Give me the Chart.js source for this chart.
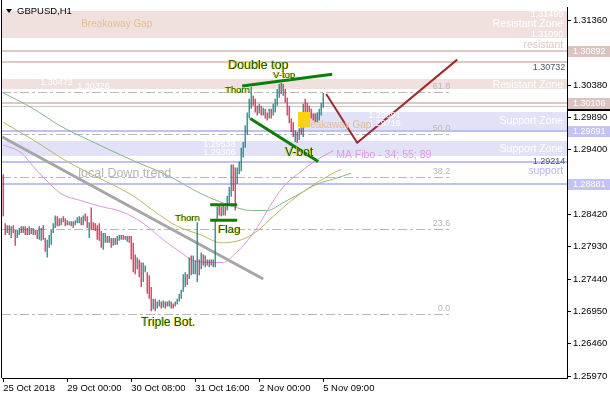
<!DOCTYPE html>
<html>
<head>
<meta charset="utf-8">
<title>GBPUSD,H1</title>
<script src="https://cdn.jsdelivr.net/npm/chart.js@4.4.1/dist/chart.umd.min.js"></script>
<style>
  html, body { margin: 0; padding: 0; background: #fff; }
  #wrap { width: 610px; height: 400px; }
</style>
</head>
<body>
<div id="wrap"><canvas id="myChart" width="610" height="400"></canvas></div>
<script>
// GBPUSD H1, 25 Oct 2018 -> 5 Nov 2018, one entry per hourly bar
const barHigh = [
  1.29031, 1.28288, 1.28258, 1.28258, 1.28243, 1.28258, 1.28184, 1.28184, 1.28214, 1.28243,
  1.28243, 1.28243, 1.28214, 1.28243, 1.28214, 1.28214, 1.28184, 1.28184, 1.28243, 1.28214,
  1.28258, 1.28065, 1.28036, 1.28110, 1.28184, 1.28288, 1.28407, 1.28392, 1.28362, 1.28362,
  1.28392, 1.28362, 1.28333, 1.28318, 1.28318, 1.28318, 1.28333, 1.28377, 1.28392, 1.28377,
  1.28407, 1.28437, 1.28392, 1.28303, 1.28526, 1.28303, 1.28288, 1.28258, 1.28288, 1.28169,
  1.28140, 1.28140, 1.28095, 1.28095, 1.28065, 1.28065, 1.28065, 1.28095, 1.28110, 1.28110,
  1.28110, 1.28095, 1.28095, 1.28095, 1.28095, 1.27991, 1.27813, 1.27768, 1.27739, 1.27694,
  1.27694, 1.27649, 1.27546, 1.27501, 1.27323, 1.27145, 1.27145, 1.27100, 1.27130, 1.27100,
  1.27115, 1.27100, 1.27100, 1.27115, 1.27100, 1.27070, 1.27100, 1.27145, 1.27219, 1.27278,
  1.27516, 1.27546, 1.27516, 1.27768, 1.27798, 1.27798, 1.27724, 1.28303, 1.27739, 1.27843,
  1.27813, 1.27798, 1.27739, 1.27739, 1.27739, 1.27739, 1.28333, 1.28540, 1.28555, 1.28540,
  1.28555, 1.28540, 1.28704, 1.28837, 1.29179, 1.29179, 1.29134, 1.29134, 1.29224, 1.29431,
  1.29521, 1.29773, 1.29966, 1.30174, 1.30352, 1.30219, 1.30174, 1.30070, 1.30100, 1.30070,
  1.30040, 1.30025, 1.29966, 1.30025, 1.30025, 1.30100, 1.30174, 1.30322, 1.30397, 1.30412,
  1.30397, 1.30322, 1.30189, 1.30070, 1.29877, 1.29818, 1.29699, 1.29669, 1.29728, 1.29743,
  1.30100, 1.30174, 1.30115, 1.30070, 1.30025, 1.29951, 1.29951, 1.29966, 1.30025, 1.30115,
  1.30263
];
const barLow = [
  1.28392, 1.28110, 1.28140, 1.28110, 1.28065, 1.28140, 1.27946, 1.28065, 1.28110, 1.28140,
  1.28140, 1.28110, 1.28110, 1.28110, 1.28125, 1.28110, 1.28110, 1.28050, 1.28036, 1.28021,
  1.28036, 1.27857, 1.27768, 1.27917, 1.27961, 1.28140, 1.28214, 1.28243, 1.28243, 1.28258,
  1.28303, 1.28243, 1.28258, 1.28258, 1.28243, 1.28214, 1.28258, 1.28288, 1.28288, 1.28258,
  1.28258, 1.28318, 1.28214, 1.28065, 1.28184, 1.28184, 1.28169, 1.28036, 1.28021, 1.27917,
  1.27887, 1.27991, 1.27991, 1.27991, 1.27917, 1.27946, 1.27961, 1.27961, 1.28021, 1.28036,
  1.28036, 1.28036, 1.28006, 1.27991, 1.27739, 1.27546, 1.27516, 1.27590, 1.27471, 1.27323,
  1.27397, 1.27546, 1.27219, 1.27145, 1.26952, 1.26981, 1.26952, 1.26996, 1.27026, 1.26996,
  1.27011, 1.26996, 1.27026, 1.27026, 1.26996, 1.26996, 1.27026, 1.27055, 1.27100, 1.27145,
  1.27249, 1.27323, 1.27352, 1.27442, 1.27501, 1.27516, 1.27516, 1.27397, 1.27501, 1.27590,
  1.27649, 1.27620, 1.27649, 1.27620, 1.27649, 1.27620, 1.27620, 1.28333, 1.28407, 1.28392,
  1.28407, 1.28407, 1.28481, 1.28585, 1.28689, 1.28778, 1.28481, 1.28882, 1.29031, 1.29075,
  1.29283, 1.29431, 1.29625, 1.29877, 1.30025, 1.30070, 1.29966, 1.29922, 1.29951, 1.29922,
  1.29922, 1.29877, 1.29847, 1.29877, 1.29877, 1.29922, 1.29966, 1.30070, 1.30189, 1.30248,
  1.30219, 1.30115, 1.29922, 1.29803, 1.29669, 1.29595, 1.29521, 1.29506, 1.29550, 1.29625,
  1.29595, 1.29922, 1.29951, 1.29922, 1.29877, 1.29847, 1.29818, 1.29818, 1.29847, 1.29922,
  1.30040
];
// 1 = bull candle, 0 = bear candle
const barUp = [
  0,0,1,0,1,0,0,1,1,0, 1,0,0,1,0,1,0,0,1,1, 0,0,1,1,1,1,1,0,0,1, 0,0,1,0,1,0,1,1,1,0,
  1,0,0,1,0,0,0,0,0,0, 1,1,0,1,0,1,0,1,1,1, 0,0,1,0,0,0,0,1,0,0, 1,1,0,0,0,1,0,1,1,0,
  1,0,1,1,0,0,1,1,1,1, 1,1,0,1,0,1,1,1,0,1, 0,1,0,1,0,1,1,1,0,0, 1,0,1,1,1,0,0,1,1,1,
  1,1,1,1,1,0,0,0,1,0, 1,0,0,1,0,1,1,1,1,0, 1,0,0,0,0,0,1,0,1,0, 1,0,0,0,0,0,0,1,1,1,
  1
];

const timeTicks = [0, 32, 64, 96, 128, 160];
const timeLabels = ['25 Oct 2018', '29 Oct 00:00', '30 Oct 08:00', '31 Oct 16:00', '2 Nov 00:00', '5 Nov 09:00'];
const priceTicks = [1.25970, 1.26460, 1.26950, 1.27440, 1.27930, 1.28420, 1.28910, 1.29400, 1.29890, 1.30380, 1.30870, 1.31360];

// MA Fibo 34 / 55 / 89 (shifted forward), [bar, price]
const ma34 = [[0, 1.29476], [9, 1.29357], [15, 1.29149], [20, 1.28986], [29, 1.28734], [39, 1.28630], [49, 1.28540],
  [59, 1.28466], [70, 1.28288], [76, 1.28140], [82, 1.27991], [89, 1.27843], [95, 1.27724], [104, 1.27694],
  [110, 1.27694], [116, 1.27828], [122, 1.28021], [129, 1.28318], [132, 1.28481], [140, 1.28837],
  [149, 1.29075], [157, 1.29253], [165, 1.29387]];
const ma55 = [[0, 1.29818], [15, 1.29550], [32, 1.29224], [49, 1.28956], [65, 1.28704], [77, 1.28437], [87, 1.28243],
  [99, 1.28110], [109, 1.27991], [119, 1.28036], [127, 1.28169], [135, 1.28392], [144, 1.28630],
  [152, 1.28808], [164, 1.29031], [169, 1.29105]];
const ma89 = [[0, 1.30263], [15, 1.30025], [28, 1.29773], [49, 1.29461], [65, 1.29238], [82, 1.29016], [99, 1.28734],
  [107, 1.28630], [115, 1.28540], [124, 1.28481], [132, 1.28481], [140, 1.28600], [149, 1.28748],
  [157, 1.28882], [165, 1.28956], [174, 1.29045]];

// drawn objects, [bar, price]
const downTrend = [[-0.5, 1.29595], [130, 1.27442]];
const doubleTop = [[119.5, 1.30367], [164.5, 1.30545]];
const vBotLine = [[123.5, 1.29877], [157.5, 1.29224]];
const flagTop = [[103.5, 1.28570], [117, 1.28570]];
const flagBottom = [[103.5, 1.28333], [117, 1.28333]];
const forecast = [[161.5, 1.30248], [177, 1.29506], [227, 1.30768]];

// zones and levels
const resistZones = [[1.31090, 1.31499], [1.30326, 1.30472]];
const resistLines = [1.30892, 1.30732, 1.30106];
const supportZones = [[1.29306, 1.29538]];
const gapZone = [148.5, 1.29699, 1.29981];   // start bar, low, high
const gapBox = [147.5, 153.5, 1.29743, 1.29981];
const supportLines = [1.29691, 1.29214, 1.28881];
const priceLine = 1.30063;
const fiboNames = ['0.0', '23.6', '38.2', '50.0', '61.8'];
const fiboPrices = [1.26907, 1.28194, 1.28991, 1.29635, 1.30278];
const fiboEnd = 223.5;
const resistTags = [1.30892, 1.30106];
const supportTags = [1.29691, 1.28881];

// texts: [text, bar, price, kind]
const notes = [
  ['1.31499', 280, 1.31451, 'zoneR'],
  ['Resistant Zone', 280, 1.31303, 'zoneBig'],
  ['1.31090', 280, 1.31154, 'zoneR'],
  ['resistant', 280, 1.30991, 'resWord'],
  ['1.30732', 281, 1.30649, 'priceR'],
  ['1.30472', 18.5, 1.30426, 'zone'],
  ['1.30326', 37, 1.30367, 'zone'],
  ['Resistant Zone', 280, 1.30382, 'zoneBig'],
  ['1.29891', 182.5, 1.29922, 'zone'],
  ['1.29719', 182.5, 1.29803, 'zone'],
  ['Support Zone', 280, 1.29833, 'zoneBig'],
  ['1.29538', 100, 1.29476, 'zone'],
  ['1.29306', 100, 1.29357, 'zone'],
  ['Support Zone', 280, 1.29417, 'zoneBig'],
  ['1.29214', 281, 1.29224, 'priceR'],
  ['support', 280, 1.29075, 'supWord'],
  ['MA Fibo - 34; 55; 89', 166.5, 1.29328, 'ma'],
  ['local Down trend', 37.5, 1.29045, 'trend'],
  ['Breakaway Gap', 39, 1.31303, 'gap'],
  ['Breakaway Gap', 148.5, 1.29773, 'gap']
];
const patternNotes = [
  ['Double top', 112.5, 1.30679, 12.5],
  ['V-top', 135, 1.30530, 9.5],
  ['Thorn', 111, 1.30308, 9.5],
  ['Thorn', 86, 1.28362, 9.5],
  ['Flag', 107.5, 1.28184, 11.5],
  ['V-bot', 141, 1.29357, 12],
  ['Triple Bot.', 69, 1.26773, 12]
];

const FONT = "'Liberation Sans', Arial, sans-serif";
const noteStyle = {
  zoneR:   { size: 9,    color: '#ffffff', align: 'right' },
  zoneBig: { size: 10.5, color: '#ffffff', align: 'right' },
  zone:    { size: 9,    color: '#ffffff', align: 'left' },
  resWord: { size: 10.5, color: '#dcc6c2', align: 'right' },
  priceR:  { size: 9,    color: '#4a5866', align: 'right' },
  supWord: { size: 10.5, color: '#b6b6ee', align: 'right' },
  ma:      { size: 10.5, color: '#e09be0', align: 'left' },
  trend:   { size: 12.5, color: '#b4b4b4', align: 'left' },
  gap:     { size: 10,   color: '#e4bf8e', align: 'left' }
};

const pts = arr => arr.map(([x, y]) => ({ x, y }));

const overlays = {
  id: 'overlays',
  beforeDatasetsDraw(chart) {
    const { ctx, chartArea: a, scales: { x, y } } = chart;
    const L = a.left, R = a.right;
    ctx.save();
    ctx.beginPath();
    ctx.rect(L, a.top, R - L, a.bottom - a.top);
    ctx.clip();
    const band = (lo, hi, col, x0) => {
      const t = Math.round(y.getPixelForValue(hi));
      const b = Math.round(y.getPixelForValue(lo));
      ctx.fillStyle = col;
      ctx.fillRect(x0, t, R - x0, b - t);
    };
    const hline = (p, col, w) => {
      const yy = Math.round(y.getPixelForValue(p));
      ctx.fillStyle = col;
      ctx.fillRect(L, yy - Math.floor(w / 2), R - L, w);
    };
    resistZones.forEach(z => band(z[0], z[1], '#f0e1de', L));
    supportZones.forEach(z => band(z[0], z[1], '#e1e1f8', L));
    band(gapZone[1], gapZone[2], '#e1e1f8', Math.round(x.getPixelForValue(gapZone[0])));
    resistLines.forEach(p => hline(p, '#dfc9c5', 2));
    hline(priceLine, '#c8c8c8', 1);
    supportLines.forEach(p => hline(p, '#c0c0f2', 2));

    // fibo levels
    const fx = x.getPixelForValue(fiboEnd);
    ctx.strokeStyle = '#b8b8b8';
    ctx.lineWidth = 1;
    ctx.setLineDash([9, 3, 3, 3]);
    ctx.font = '9px ' + FONT;
    ctx.textAlign = 'right';
    ctx.textBaseline = 'middle';
    fiboPrices.forEach((p, k) => {
      const yy = Math.round(y.getPixelForValue(p)) + 0.5;
      ctx.beginPath();
      ctx.moveTo(L, yy);
      ctx.lineTo(fx, yy);
      ctx.stroke();
      ctx.fillStyle = '#b8b8b8';
      ctx.fillText(fiboNames[k], fx, yy - 6);
    });
    ctx.restore();
  },
  afterDatasetsDraw(chart) {
    const { ctx, chartArea: a, scales: { x, y } } = chart;
    ctx.save();
    ctx.beginPath();
    ctx.rect(a.left, a.top, a.right - a.left, a.bottom - a.top);
    ctx.clip();
    // breakaway gap box
    const bx0 = Math.round(x.getPixelForValue(gapBox[0]));
    const bx1 = Math.round(x.getPixelForValue(gapBox[1]));
    const by0 = Math.round(y.getPixelForValue(gapBox[3]));
    const by1 = Math.round(y.getPixelForValue(gapBox[2]));
    ctx.fillStyle = '#ffd400';
    ctx.fillRect(bx0, by0, bx1 - bx0, by1 - by0);

    ctx.textBaseline = 'middle';
    notes.forEach(([t, i, p, kind]) => {
      const s = noteStyle[kind];
      ctx.font = s.size + 'px ' + FONT;
      ctx.textAlign = s.align;
      ctx.fillStyle = s.color;
      ctx.fillText(t, x.getPixelForValue(i), y.getPixelForValue(p));
    });
    // pattern labels: green with a yellow fringe
    ctx.textAlign = 'left';
    patternNotes.forEach(([t, i, p, size]) => {
      const px = x.getPixelForValue(i), py = y.getPixelForValue(p);
      ctx.font = size + 'px ' + FONT;
      ctx.fillStyle = '#e6c400';
      ctx.fillText(t, px - 1, py);
      ctx.fillStyle = '#0f600f';
      ctx.fillText(t, px, py);
    });
    // chart shift marker
    const sx = x.getPixelForValue(forecast[0][0]);
    ctx.fillStyle = '#a8a8a8';
    ctx.beginPath();
    ctx.moveTo(sx - 5, 2);
    ctx.lineTo(sx + 5, 2);
    ctx.lineTo(sx, 8);
    ctx.closePath();
    ctx.fill();
    ctx.restore();
  },
  afterDraw(chart) {
    const { ctx, chartArea: a, scales: { y } } = chart;
    ctx.save();
    // left frame
    ctx.fillStyle = '#000';
    ctx.fillRect(a.left - 1, 0, 1, a.bottom);
    // price tags on the axis
    ctx.font = '9px ' + FONT;
    ctx.textAlign = 'left';
    ctx.textBaseline = 'middle';
    const tag = (p, col) => {
      const yy = Math.round(y.getPixelForValue(p));
      ctx.fillStyle = col;
      ctx.fillRect(a.right + 1, yy - 5, 610 - a.right, 11);
      ctx.fillStyle = '#fff';
      ctx.fillText(p.toFixed(5), a.right + 6, yy + 0.5);
    };
    resistTags.forEach(p => tag(p, '#dcc3bf'));
    supportTags.forEach(p => tag(p, '#c3c3f5'));
    ctx.fillStyle = '#000';
    ctx.fillRect(a.right, Math.round(y.getPixelForValue(1.30025)), 610 - a.right, 2);
    // title
    ctx.beginPath();
    ctx.moveTo(6, 9);
    ctx.lineTo(12, 9);
    ctx.lineTo(9, 13);
    ctx.closePath();
    ctx.fill();
    ctx.font = '9.5px ' + FONT;
    ctx.fillText('GBPUSD,H1', 17, 11);
    ctx.restore();
  }
};

const lineDs = (label, data, color, width, order, smooth) => ({
  type: 'line', label, data: pts(data), borderColor: color, borderWidth: width,
  pointRadius: 0, pointHoverRadius: 0, fill: false, order,
  cubicInterpolationMode: smooth ? 'monotone' : 'default', tension: 0
});

const ctx = document.getElementById('myChart');
new Chart(ctx, {
  type: 'bar',
  data: {
    datasets: [
      lineDs('Double top', doubleTop, '#0a800a', 3, 0, false),
      lineDs('V-bot', vBotLine, '#0a800a', 3, 0, false),
      lineDs('Flag top', flagTop, '#0a800a', 3, 0, false),
      lineDs('Flag bottom', flagBottom, '#0a800a', 3, 0, false),
      lineDs('Forecast', forecast, '#a3282b', 2, 0, false),
      {
        type: 'bar',
        label: 'GBPUSD,H1',
        data: barHigh.map((h, i) => ({ x: i, y: [barLow[i], h] })),
        backgroundColor: barUp.map(u => u ? '#008080' : '#e3173f'),
        barThickness: 1.2,
        inflateAmount: 0,
        grouped: false,
        order: 1
      },
      lineDs('local Down trend', downTrend, '#a6a6a6', 3, 2, false),
      lineDs('MA 34', ma34, '#de95de', 1, 3, true),
      lineDs('MA 55', ma55, '#c4b45a', 1, 3, true),
      lineDs('MA 89', ma89, '#86b886', 1, 3, true)
    ]
  },
  options: {
    responsive: false,
    animation: false,
    devicePixelRatio: 1,
    layout: { padding: { left: 2, top: 0, right: 0, bottom: 0 } },
    plugins: {
      legend: { display: false },
      tooltip: { enabled: false }
    },
    scales: {
      x: {
        type: 'linear',
        position: 'bottom',
        min: -0.6,
        max: 281.9,
        offset: false,
        grid: { drawOnChartArea: false, drawTicks: true, tickLength: 4, color: '#000', offset: false },
        border: { color: '#000', width: 1 },
        afterBuildTicks: s => { s.ticks = timeTicks.map(v => ({ value: v })); },
        afterFit: s => { s.height = 22; },
        ticks: {
          autoSkip: false,
          maxRotation: 0,
          align: 'start',
          padding: 1,
          color: '#000',
          font: { family: FONT, size: 9.5 },
          callback: (v, i) => timeLabels[i]
        }
      },
      y: {
        type: 'linear',
        position: 'right',
        min: 1.25942,
        max: 1.31555,
        beginAtZero: false,
        grid: { drawOnChartArea: false, drawTicks: true, tickLength: 4, color: '#000' },
        border: { color: '#000', width: 1 },
        afterBuildTicks: s => { s.ticks = priceTicks.map(v => ({ value: v })); },
        afterFit: s => { s.width = 43; },
        ticks: {
          padding: 2,
          color: '#000',
          font: { family: FONT, size: 9.5 },
          callback: v => v.toFixed(5)
        }
      }
    }
  },
  plugins: [overlays]
});
</script>
</body>
</html>
